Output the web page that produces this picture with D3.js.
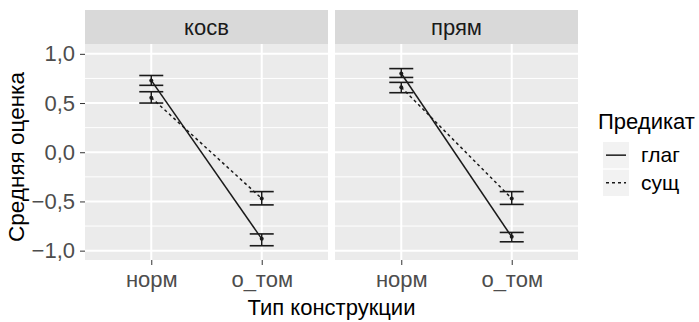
<!DOCTYPE html>
<html>
<head>
<meta charset="utf-8">
<script src="https://cdn.jsdelivr.net/npm/d3@7"></script>
<style>
  body { margin: 0; background: #fff; }
  svg text { font-family: "Liberation Sans", Arial, sans-serif; }
</style>
</head>
<body>
<div id="chart"></div>
<script>
// facets, categories and groups
var facets = ["косв", "прям"];
var constructions = ["норм", "о_том"];
var predicates = ["глаг", "сущ"];
var yTicks = [-1, -0.5, 0, 0.5, 1];

// means and error bar bounds, [норм, о_том]
var kosvGlagMean = [0.73, -0.88];
var kosvGlagLo = [0.68, -0.95];
var kosvGlagHi = [0.78, -0.83];
var kosvSushMean = [0.555, -0.47];
var kosvSushLo = [0.50, -0.535];
var kosvSushHi = [0.615, -0.40];

var pryamGlagMean = [0.80, -0.86];
var pryamGlagLo = [0.76, -0.91];
var pryamGlagHi = [0.85, -0.815];
var pryamSushMean = [0.66, -0.47];
var pryamSushLo = [0.605, -0.53];
var pryamSushHi = [0.71, -0.40];

var series = {
  "косв": {
    "глаг": {mean: kosvGlagMean, lo: kosvGlagLo, hi: kosvGlagHi},
    "сущ": {mean: kosvSushMean, lo: kosvSushLo, hi: kosvSushHi}
  },
  "прям": {
    "глаг": {mean: pryamGlagMean, lo: pryamGlagLo, hi: pryamGlagHi},
    "сущ": {mean: pryamSushMean, lo: pryamSushLo, hi: pryamSushHi}
  }
};

var width = 699, height = 322;
var panelLefts = [85, 335];
var panelW = 243;
var stripTop = 10, panelTop = 44, panelBottom = 260;

var svg = d3.select("#chart").append("svg")
  .attr("width", width)
  .attr("height", height);

var y = d3.scaleLinear()
  .domain([-1.095, 1.10])
  .range([panelBottom, panelTop]);

var dash = {"глаг": null, "сущ": "3,3"};
var fmt = function(d) { return d3.format(".1f")(d).replace(".", ",").replace("-", "\u2212"); };

facets.forEach(function(f, i) {
  var x = d3.scalePoint()
    .domain(constructions)
    .range([panelLefts[i], panelLefts[i] + panelW])
    .padding(0.6);

  var g = svg.append("g");

  // strip
  g.append("rect")
    .attr("x", panelLefts[i]).attr("y", stripTop)
    .attr("width", panelW).attr("height", panelTop - stripTop)
    .attr("fill", "#d9d9d9");
  g.append("text")
    .attr("x", panelLefts[i] + panelW / 2)
    .attr("y", (stripTop + panelTop) / 2)
    .attr("dy", "0.36em")
    .attr("text-anchor", "middle")
    .attr("font-size", 22)
    .attr("fill", "#1a1a1a")
    .text(f);

  // panel background
  g.append("rect")
    .attr("x", panelLefts[i]).attr("y", panelTop)
    .attr("width", panelW).attr("height", panelBottom - panelTop)
    .attr("fill", "#ebebeb");

  // minor grid
  var minor = d3.range(-0.75, 1.01, 0.5);
  g.selectAll(".minor")
    .data(minor)
    .enter().append("line")
      .attr("x1", panelLefts[i]).attr("x2", panelLefts[i] + panelW)
      .attr("y1", function(d) { return y(d); })
      .attr("y2", function(d) { return y(d); })
      .attr("stroke", "#fff").attr("stroke-width", 1);

  // major grid
  g.selectAll(".major")
    .data(yTicks)
    .enter().append("line")
      .attr("x1", panelLefts[i]).attr("x2", panelLefts[i] + panelW)
      .attr("y1", function(d) { return y(d); })
      .attr("y2", function(d) { return y(d); })
      .attr("stroke", "#fff").attr("stroke-width", 2);
  g.selectAll(".vmajor")
    .data(constructions)
    .enter().append("line")
      .attr("x1", function(d) { return x(d); })
      .attr("x2", function(d) { return x(d); })
      .attr("y1", panelTop).attr("y2", panelBottom)
      .attr("stroke", "#fff").attr("stroke-width", 2);

  // x axis
  var xa = svg.append("g")
    .attr("transform", "translate(0," + panelBottom + ")")
    .call(d3.axisBottom(x).tickSize(5).tickPadding(6));
  xa.select(".domain").remove();
  xa.selectAll(".tick line").attr("stroke", "#333").attr("stroke-width", 1);
  xa.selectAll(".tick text")
    .attr("font-size", 22).attr("fill", "#4d4d4d")
    .attr("font-family", "Liberation Sans, Arial, sans-serif");

  // data
  predicates.forEach(function(p) {
    var s = series[f][p];
    var pts = constructions.map(function(c, j) {
      return {c: c, mean: s.mean[j], lo: s.lo[j], hi: s.hi[j]};
    });

    var line = d3.line()
      .x(function(d) { return x(d.c); })
      .y(function(d) { return y(d.mean); });

    g.append("path")
      .datum(pts)
      .attr("d", line)
      .attr("fill", "none")
      .attr("stroke", "#1a1a1a")
      .attr("stroke-width", 1.5)
      .attr("stroke-dasharray", dash[p]);

    var cap = 12;
    var eb = g.selectAll(".eb-" + p)
      .data(pts)
      .enter().append("g");
    eb.append("line")
      .attr("x1", function(d) { return x(d.c); })
      .attr("x2", function(d) { return x(d.c); })
      .attr("y1", function(d) { return y(d.lo); })
      .attr("y2", function(d) { return y(d.hi); })
      .attr("stroke", "#1a1a1a").attr("stroke-width", 1.5);
    eb.append("line")
      .attr("x1", function(d) { return x(d.c) - cap; })
      .attr("x2", function(d) { return x(d.c) + cap; })
      .attr("y1", function(d) { return y(d.lo); })
      .attr("y2", function(d) { return y(d.lo); })
      .attr("stroke", "#1a1a1a").attr("stroke-width", 1.6);
    eb.append("line")
      .attr("x1", function(d) { return x(d.c) - cap; })
      .attr("x2", function(d) { return x(d.c) + cap; })
      .attr("y1", function(d) { return y(d.hi); })
      .attr("y2", function(d) { return y(d.hi); })
      .attr("stroke", "#1a1a1a").attr("stroke-width", 1.6);
    eb.append("circle")
      .attr("cx", function(d) { return x(d.c); })
      .attr("cy", function(d) { return y(d.mean); })
      .attr("r", 2)
      .attr("fill", "#1a1a1a");
  });
});

// y axis
var ya = svg.append("g")
  .attr("transform", "translate(" + panelLefts[0] + ",0)")
  .call(d3.axisLeft(y).tickValues(yTicks).tickFormat(fmt).tickSize(5).tickPadding(5));
ya.select(".domain").remove();
ya.selectAll(".tick line").attr("stroke", "#333").attr("stroke-width", 1);
ya.selectAll(".tick text")
  .attr("font-size", 22).attr("fill", "#4d4d4d")
  .attr("font-family", "Liberation Sans, Arial, sans-serif");

// axis titles
svg.append("text")
  .attr("x", (panelLefts[0] + panelLefts[1] + panelW) / 2)
  .attr("y", 315)
  .attr("text-anchor", "middle")
  .attr("font-size", 22)
  .attr("fill", "#000")
  .text("Тип конструкции");

svg.append("text")
  .attr("transform", "translate(24,157) rotate(-90)")
  .attr("text-anchor", "middle")
  .attr("font-size", 22.5)
  .attr("fill", "#000")
  .text("Средняя оценка");

// legend
var lg = svg.append("g");
lg.append("text")
  .attr("x", 598).attr("y", 129)
  .attr("font-size", 22)
  .attr("fill", "#000")
  .text("Предикат");

var keyY = d3.scaleBand().domain(predicates).range([142, 196]).paddingInner(0.05);
var keys = lg.selectAll(".key")
  .data(predicates)
  .enter().append("g");
keys.append("rect")
  .attr("x", 603).attr("y", function(d) { return keyY(d); })
  .attr("width", 26).attr("height", keyY.bandwidth())
  .attr("fill", "#f2f2f2");
keys.append("line")
  .attr("x1", 606).attr("x2", 626)
  .attr("y1", function(d) { return keyY(d) + keyY.bandwidth() / 2; })
  .attr("y2", function(d) { return keyY(d) + keyY.bandwidth() / 2; })
  .attr("stroke", "#1a1a1a").attr("stroke-width", 1.5)
  .attr("stroke-dasharray", function(d) { return dash[d]; });
keys.append("text")
  .attr("x", 641)
  .attr("y", function(d) { return keyY(d) + keyY.bandwidth() / 2; })
  .attr("dy", "0.32em")
  .attr("font-size", 21)
  .attr("fill", "#000")
  .text(function(d) { return d; });
</script>
</body>
</html>
